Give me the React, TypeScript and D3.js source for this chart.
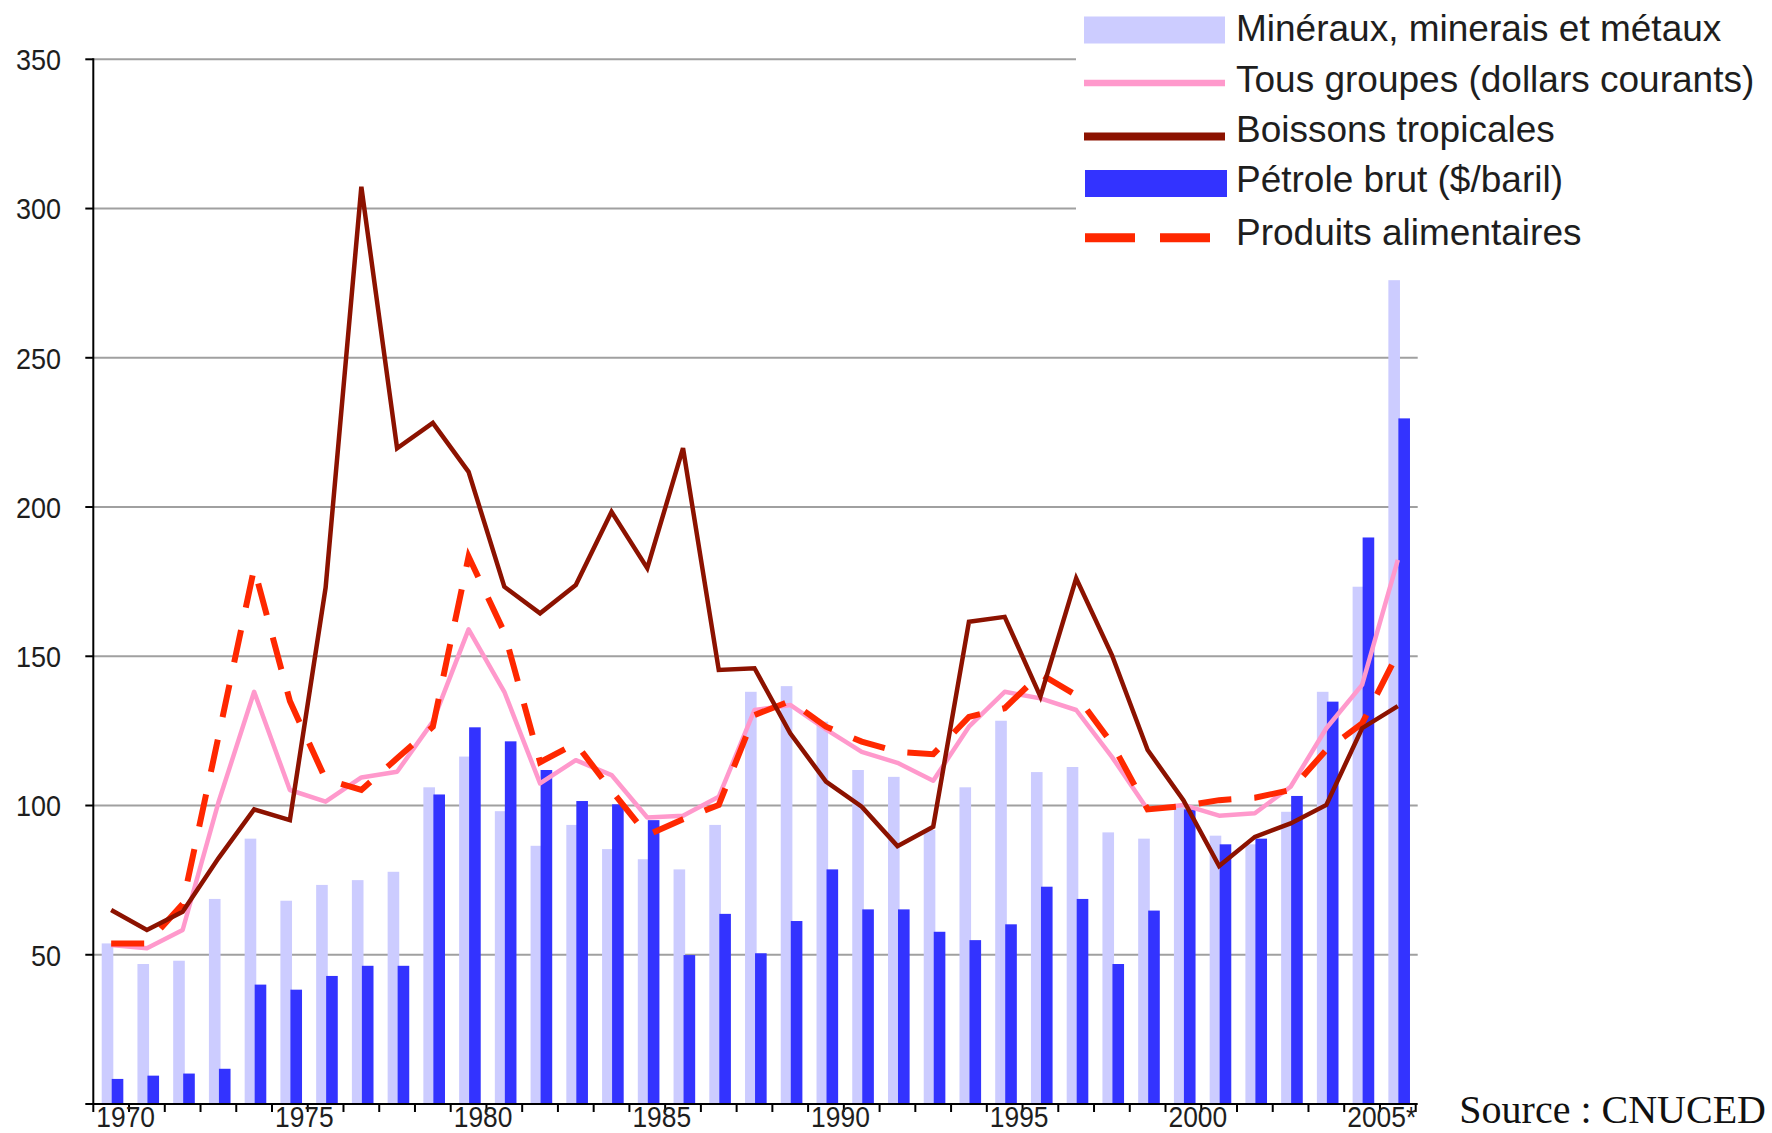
import React from "react";
import * as d3 from "d3";

// categories (one band per year)
const years = [
  1970, 1971, 1972, 1973, 1974, 1975, 1976, 1977, 1978, 1979,
  1980, 1981, 1982, 1983, 1984, 1985, 1986, 1987, 1988, 1989,
  1990, 1991, 1992, 1993, 1994, 1995, 1996, 1997, 1998, 1999,
  2000, 2001, 2002, 2003, 2004, 2005, 2006,
];

// only every 5th category is labelled
const labelYears = [1970, 1975, 1980, 1985, 1990, 1995, 2000, 2005];
const labelTexts = ["1970", "1975", "1980", "1985", "1990", "1995", "2000", "2005*"];

const yTicks = [50, 100, 150, 200, 250, 300, 350];

// Minéraux, minerais et métaux (light bars)
const mineraux = [
  53.8, 46.9, 48.0, 68.7, 88.9, 68.1, 73.4, 75.0, 77.8, 106.1,
  116.4, 98.1, 86.5, 93.5, 85.4, 82.0, 78.6, 93.5, 138.1, 140.0,
  128.1, 111.9, 109.6, 91.8, 106.1, 128.4, 111.2, 112.9, 91.0, 88.9,
  99.4, 89.9, 87.0, 97.9, 138.1, 173.3, 276.0,
];

// Pétrole brut ($/baril) (dark blue bars)
const petrole = [
  8.4, 9.5, 10.2, 11.8, 40.0, 38.3, 42.9, 46.3, 46.3, 103.7,
  126.2, 121.5, 111.9, 101.5, 100.4, 95.1, 49.9, 63.7, 50.5, 61.3,
  78.6, 65.2, 65.2, 57.7, 54.9, 60.2, 72.8, 68.7, 46.9, 64.8,
  98.7, 87.0, 88.9, 103.2, 134.8, 189.8, 229.7,
];

// Tous groupes (dollars courants)
const tousGroupes = [
  53.3, 52.2, 58.3, 101.0, 138.1, 105.2, 101.3, 109.4, 111.3, 128.1,
  159.0, 138.1, 107.4, 115.2, 110.2, 96.0, 96.6, 102.9, 132.0, 133.7,
  125.5, 118.0, 114.3, 108.3, 126.4, 138.1, 135.9, 132.0, 116.3, 98.7,
  100.2, 96.6, 97.4, 106.3, 125.9, 140.4, 182.3,
];

// Boissons tropicales
const boissons = [
  65.0, 58.3, 64.4, 82.3, 98.7, 95.1, 173.0, 307.3, 219.7, 228.2,
  211.8, 173.3, 164.4, 173.9, 198.4, 179.5, 219.7, 145.4, 146.0, 124.2,
  108.0, 99.6, 86.4, 92.9, 161.6, 163.2, 136.5, 176.1, 150.4, 118.6,
  101.8, 79.7, 89.5, 94.0, 100.2, 125.9, 133.3,
];

// Produits alimentaires
const produits = [
  53.8, 53.8, 67.0, 123.0, 179.5, 135.0, 108.8, 105.2, 115.8, 126.4,
  183.4, 158.0, 114.5, 120.8, 105.0, 90.1, 95.4, 100.2, 130.3, 135.0,
  126.4, 121.4, 118.0, 117.2, 129.7, 132.6, 144.1, 137.0, 120.8, 98.7,
  99.8, 101.8, 102.6, 105.2, 118.6, 127.5, 151.0,
];

const legendLabels = [
  "Minéraux, minerais et métaux",
  "Tous groupes (dollars courants)",
  "Boissons tropicales",
  "Pétrole brut ($/baril)",
  "Produits alimentaires",
];

const W = 1772;
const H = 1133;
const FONT = "'Liberation Sans', Arial, Helvetica, sans-serif";

const LAV = "#ccccff";
const BLUE = "#3333ff";
const PINK = "#ff99cc";
const MAROON = "#8c1200";
const RED = "#ff2800";
const GRID = "#a0a0a0";
const INK = "#1e1e1e";

function App(): JSX.Element {
  const x = d3.scaleBand<number>().domain(years).range([93.3, 1415.7]);
  const y = d3.scaleLinear().domain([0, 350]).range([1104, 59.3]);
  const bw = x.bandwidth();
  const left = x.range()[0];
  const right = x.range()[1] + 2;

  const cx = (yr: number) => (x(yr) as number) + bw / 2;
  const path = (vals: number[]) =>
    d3
      .line<number>()
      .x((_, i) => cx(years[i]))
      .y((d) => y(d))(vals) as string;

  // band boundaries for the category ticks
  const boundaries = years.map((yr) => x(yr) as number).concat([x.range()[1]]);

  const legendBase = [40.5, 91.5, 142, 192, 245];
  const swX = 1084;
  const swW = 141;
  const textX = 1236;

  return (
    <svg
      width={W}
      height={H}
      style={{ position: "absolute", left: 0, top: 0, background: "#fff" }}
      fontFamily={FONT}
    >
      <rect x={0} y={0} width={W} height={H} fill="#fff" />

      {/* horizontal gridlines */}
      {yTicks.map((t) => (
        <line key={`g${t}`} x1={left} x2={right} y1={y(t)} y2={y(t)} stroke={GRID} strokeWidth={2} />
      ))}

      {/* bars */}
      {years.map((yr, i) => (
        <rect
          key={`m${yr}`}
          x={(x(yr) as number) + bw * 0.235}
          y={y(mineraux[i])}
          width={bw * 0.325}
          height={y(0) - y(mineraux[i])}
          fill={LAV}
        />
      ))}
      {years.map((yr, i) => (
        <rect
          key={`p${yr}`}
          x={(x(yr) as number) + bw * 0.515}
          y={y(petrole[i])}
          width={bw * 0.325}
          height={y(0) - y(petrole[i])}
          fill={BLUE}
        />
      ))}

      {/* lines */}
      <path d={path(tousGroupes)} fill="none" stroke={PINK} strokeWidth={4.5} strokeLinejoin="round" />
      <path d={path(produits)} fill="none" stroke={RED} strokeWidth={6} strokeDasharray="33 23" />
      <path d={path(boissons)} fill="none" stroke={MAROON} strokeWidth={4.5} strokeLinejoin="miter" />

      {/* y axis */}
      <line x1={left} x2={left} y1={y(350) - 1} y2={y(0)} stroke="#000" strokeWidth={2} />
      {yTicks.concat([0]).map((t) => (
        <line key={`yt${t}`} x1={left - 8} x2={left} y1={y(t)} y2={y(t)} stroke="#000" strokeWidth={2} />
      ))}
      {yTicks.map((t) => (
        <text
          key={`yl${t}`}
          transform={`translate(61,${y(t) + 10.8}) scale(0.9,1)`}
          textAnchor="end"
          fontSize={30}
          fill={INK}
        >
          {t}
        </text>
      ))}

      {/* x axis */}
      <line x1={left} x2={right} y1={y(0)} y2={y(0)} stroke="#000" strokeWidth={2} />
      {boundaries.map((bx, i) => (
        <line key={`xt${i}`} x1={bx} x2={bx} y1={y(0)} y2={y(0) + 8} stroke="#000" strokeWidth={2} />
      ))}
      {labelYears.map((yr, i) => (
        <text
          key={`xl${yr}`}
          transform={`translate(${(x(yr) as number) + 3},1127) scale(0.88,1)`}
          fontSize={30}
          fill={INK}
        >
          {labelTexts[i]}
        </text>
      ))}

      {/* legend */}
      <rect x={1076} y={0} width={W - 1076} height={262} fill="#fff" />
      <rect x={swX} y={legendBase[0] - 24} width={swW} height={27} fill={LAV} />
      <line x1={swX} x2={swX + swW} y1={legendBase[1] - 8.4} y2={legendBase[1] - 8.4} stroke={PINK} strokeWidth={6.5} />
      <line x1={swX} x2={swX + swW} y1={legendBase[2] - 5.5} y2={legendBase[2] - 5.5} stroke={MAROON} strokeWidth={8} />
      <rect x={swX + 1} y={legendBase[3] - 22} width={swW + 1} height={27} fill={BLUE} />
      <line
        x1={swX + 1}
        x2={swX + 126}
        y1={legendBase[4] - 7.3}
        y2={legendBase[4] - 7.3}
        stroke={RED}
        strokeWidth={9}
        strokeDasharray="50 25"
      />
      {legendLabels.map((lab, i) => (
        <text key={lab} x={textX} y={legendBase[i]} fontSize={37} fill={INK}>
          {lab}
        </text>
      ))}

      {/* source */}
      <text
        x={1766}
        y={1123}
        textAnchor="end"
        fontSize={40}
        fill="#111"
        fontFamily="'Liberation Serif', 'Times New Roman', serif"
      >
        Source : CNUCED
      </text>
    </svg>
  );
}

export default App;
